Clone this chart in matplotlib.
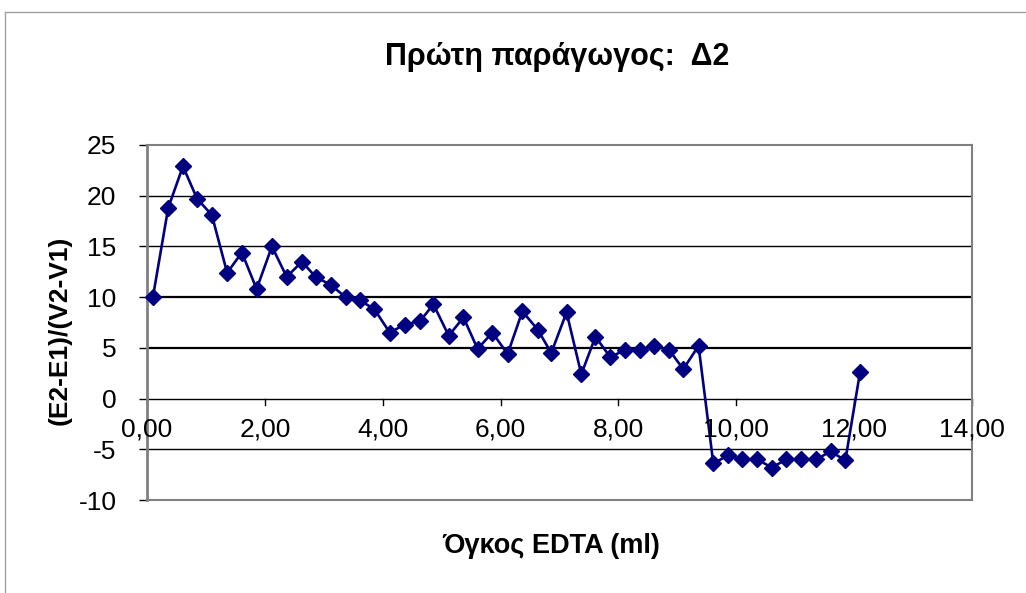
import matplotlib.pyplot as plt

plt.rcParams['font.family'] = ['Liberation Sans', 'DejaVu Sans']
plt.rcParams['axes.unicode_minus'] = False

# volume of EDTA (ml) and first derivative dE/dV
volume = [0.10, 0.36, 0.61, 0.85, 1.10, 1.36, 1.61, 1.86, 2.12, 2.37,
          2.63, 2.86, 3.12, 3.37, 3.61, 3.86, 4.12, 4.37, 4.63, 4.86,
          5.12, 5.37, 5.61, 5.86, 6.12, 6.37, 6.63, 6.86, 7.12, 7.37,
          7.61, 7.86, 8.12, 8.36, 8.61, 8.86, 9.10, 9.36, 9.61, 9.86,
          10.10, 10.36, 10.60, 10.85, 11.10, 11.36, 11.60, 11.85, 12.10]
deriv = [10.0, 18.8, 22.9, 19.7, 18.1, 12.4, 14.4, 10.8, 15.0, 12.0,
         13.5, 12.0, 11.2, 10.0, 9.7, 8.8, 6.5, 7.3, 7.6, 9.3,
         6.2, 8.0, 4.9, 6.5, 4.4, 8.6, 6.8, 4.5, 8.5, 2.4,
         6.1, 4.1, 4.8, 4.8, 5.2, 4.8, 2.9, 5.2, -6.4, -5.6,
         -6.0, -6.0, -6.8, -6.0, -6.0, -6.0, -5.2, -6.1, 2.6]
xticks = [0, 2, 4, 6, 8, 10, 12, 14]
yticks = [-10, -5, 0, 5, 10, 15, 20, 25]

fig = plt.figure(figsize=(10.26, 5.93), dpi=100)
# outer chart frame (only top and left edges are inside the canvas)
fig.add_artist(plt.Line2D([5 / 1026, 1], [1 - 12 / 593] * 2, color='#a0a0a0', lw=1))
fig.add_artist(plt.Line2D([5 / 1026] * 2, [0, 1 - 12 / 593], color='#a0a0a0', lw=1))

ax = fig.add_axes([147 / 1026, 1 - 500 / 593, 825 / 1026, 355 / 593])
ax.set_xlim(0, 14)
ax.set_ylim(-10, 25)

for y in yticks[1:-1]:
    ax.axhline(y, color='black', lw=1.6 if y in (5, 10) else 1.0, zorder=1)

ax.plot(volume, deriv, color='#000080', lw=1.9, marker='D', markersize=8.5,
        zorder=3, clip_on=False)

for side in ['top', 'right', 'bottom', 'left']:
    ax.spines[side].set_color('#808080')
    ax.spines[side].set_linewidth(1.5)
ax.spines['left'].set_linewidth(2)

# x axis crosses at y = 0, labels sit just below it
ax.set_xticks([])
for t in xticks:
    ax.plot([t, t], [0, -0.6], color='black', lw=1, clip_on=False, zorder=2)
    ax.text(t, -1.9, f'{t:.2f}'.replace('.', ','), ha='center', va='top',
            fontsize=19)

ax.set_yticks(yticks)
ax.tick_params(axis='y', direction='out', length=6, width=1, color='black',
               labelsize=19, pad=16)

fig.text(557 / 1026, 1 - 57 / 593, 'Πρώτη παράγωγος:  Δ2', ha='center',
         va='center', fontsize=22, fontweight='bold')
fig.text(551 / 1026, 1 - 546 / 593, 'Όγκος EDTA (ml)', ha='center',
         va='center', fontsize=19.5, fontweight='bold')
fig.text(60 / 1026, 1 - 330 / 593, '(E2-E1)/(V2-V1)', ha='center',
         va='center', fontsize=19, fontweight='bold', rotation=90)

fig.savefig('out.png', dpi=100)
